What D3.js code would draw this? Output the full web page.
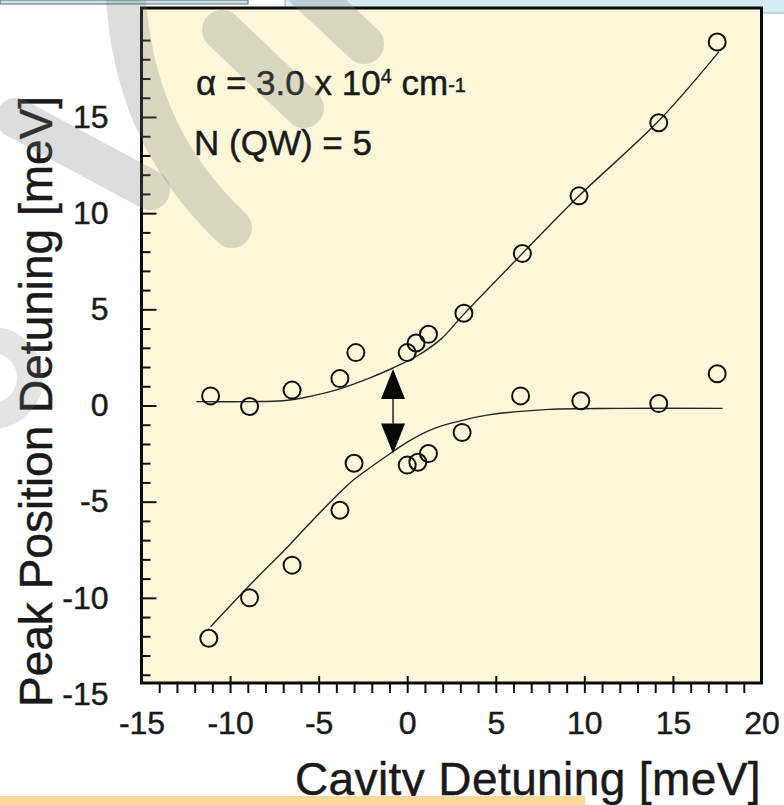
<!DOCTYPE html>
<html>
<head>
<meta charset="utf-8">
<script src="https://cdn.jsdelivr.net/npm/d3@7"></script>
<style>
  body { margin: 0; background: #fff; }
  svg { display: block; }
  text {
    font-family: "Liberation Sans", Arial, Helvetica, sans-serif;
    fill: #1a1a1a;
    stroke: #1a1a1a;
    stroke-width: 0.45px;
  }
</style>
</head>
<body>
<svg id="chart" width="784" height="805"></svg>
<script>
// Axis setup, in data units.
const xDomain = [-15, 20];
const yDomain = [-15, 15];
const xMajorTicks = [-15, -10, -5, 0, 5, 10, 15, 20];
const yMajorTicks = [-15, -10, -5, 0, 5, 10, 15];

// Measured peak positions, upper and lower polariton branch.
const upperX = [-11.1, -8.9, -6.5, -3.8, -2.9, 0.0, 0.5, 1.2, 3.2, 6.5, 9.7, 14.2, 17.5];
const upperY = [0.5, -0.05, 0.8, 1.4, 2.75, 2.75, 3.25, 3.7, 4.8, 7.9, 10.9, 14.7, 18.9];
const lowerX = [-11.2, -8.9, -6.5, -3.8, -3.0, 0.0, 0.6, 1.2, 3.1, 6.4, 9.8, 14.2, 17.5];
const lowerY = [-12.1, -10.0, -8.3, -5.45, -3.0, -3.1, -2.95, -2.5, -1.4, 0.5, 0.25, 0.1, 1.65];

// Fitted curves.
const upperFitX = [-11.9, -8.8, -7.0, -6.0, -3.75, -2.2, -0.8, 0.6, 1.9, 3.2, 6.5, 9.7, 14.2, 17.6];
const upperFitY = [0.2, 0.2, 0.25, 0.38, 0.88, 1.4, 1.95, 2.6, 3.45, 4.75, 7.9, 10.9, 14.8, 18.4];
const lowerFitX = [-11.1, -9.0, -6.7, -4.7, -3.2, -2.2, -0.8, 0.0, 1.5, 3.0, 4.5, 8.0, 12.0, 17.8];
const lowerFitY = [-11.5, -9.45, -7.3, -5.35, -4.0, -3.3, -2.4, -1.9, -1.2, -0.8, -0.5, -0.2, -0.15, -0.15];

// Splitting arrow between the branches.
const arrowX = -0.8;
const arrowEnds = [1.9, -2.5];

const svg = d3.select('#chart');
const frame = {left: 141.5, right: 761.5, top: 8, bottom: 683};

let x = d3.scaleLinear().domain(xDomain).range([frame.left, frame.right]);
let y = d3.scaleLinear().domain(yDomain).range([694, 117]);

// page decorations round the figure
svg.append('rect').attr('x', 0).attr('y', 0).attr('width', 248).attr('height', 4)
    .style('fill', '#c9e3ea').style('stroke', '#5d6b70').style('stroke-width', 1);
svg.append('rect').attr('x', 285).attr('y', -1).attr('width', 520).attr('height', 14)
    .style('fill', '#d4edf4').style('stroke', '#9fb2b8').style('stroke-width', 1);

// plot area
svg.append('rect')
    .attr('x', frame.left).attr('y', frame.top)
    .attr('width', frame.right - frame.left)
    .attr('height', frame.bottom - frame.top)
    .style('fill', '#fbf7d8');

let minorX = d3.range(-14, 20).filter(v => !xMajorTicks.includes(v));
let minorY = d3.range(-14, 20).filter(v => !yMajorTicks.includes(v));
let innerMajorX = xMajorTicks.filter(v => v > xDomain[0] && v < xDomain[1]);
let innerMajorY = yMajorTicks.filter(v => v > -14.5);

function styleTicks(g) {
  g.select('.domain').remove();
  g.selectAll('line').style('stroke', '#111').style('stroke-width', 2);
}

function styleLabels(g) {
  g.select('.domain').remove();
  g.selectAll('text')
      .style('font-size', '32px')
      .style('font-family', null)
      .attr('fill', null);
}

// x ticks: all below the frame, majors also poke inside
svg.append('g').attr('transform', `translate(0,${frame.bottom})`)
    .call(d3.axisBottom(x).tickValues(minorX.concat(innerMajorX)).tickSize(10).tickFormat(''))
    .call(styleTicks);
svg.append('g').attr('transform', `translate(0,${frame.bottom})`)
    .call(d3.axisTop(x).tickValues(innerMajorX).tickSize(7).tickFormat(''))
    .call(styleTicks);
svg.append('g').attr('transform', `translate(0,${frame.bottom})`)
    .call(d3.axisBottom(x).tickValues(xMajorTicks).tickSize(0).tickPadding(28)
        .tickFormat(d => String(d)))
    .call(styleLabels);

// y ticks: inside the frame
svg.append('g').attr('transform', `translate(${frame.left},0)`)
    .call(d3.axisRight(y).tickValues(minorY).tickSize(9).tickFormat(''))
    .call(styleTicks);
svg.append('g').attr('transform', `translate(${frame.left},0)`)
    .call(d3.axisRight(y).tickValues(innerMajorY).tickSize(15).tickFormat(''))
    .call(styleTicks);
svg.append('g').attr('transform', `translate(${frame.left},0)`)
    .call(d3.axisLeft(y).tickValues(yMajorTicks).tickSize(0).tickPadding(33)
        .tickFormat(d => String(d)))
    .call(styleLabels);

// fit curves
let line = d3.line()
    .x(d => x(d[0]))
    .y(d => y(d[1]))
    .curve(d3.curveCatmullRom.alpha(0.5));

let fits = [d3.zip(upperFitX, upperFitY), d3.zip(lowerFitX, lowerFitY)];
svg.selectAll('path.fit')
    .data(fits)
    .join('path')
    .attr('class', 'fit')
    .attr('d', line)
    .style('fill', 'none')
    .style('stroke', '#262626')
    .style('stroke-width', 1.4);

// data points
let points = d3.zip(upperX, upperY).concat(d3.zip(lowerX, lowerY));
svg.selectAll('circle.point')
    .data(points)
    .join('circle')
    .attr('class', 'point')
    .attr('cx', d => x(d[0]))
    .attr('cy', d => y(d[1]))
    .attr('r', 8.5)
    .style('fill', 'none')
    .style('stroke', '#111')
    .style('stroke-width', 2);

// double arrow
let ax = x(arrowX);
let yTop = y(arrowEnds[0]);
let yBottom = y(arrowEnds[1]);
let headH = 30, headW = 12;
svg.append('line')
    .attr('x1', ax).attr('x2', ax)
    .attr('y1', yTop + headH).attr('y2', yBottom - headH)
    .style('stroke', '#555').style('stroke-width', 2);
svg.append('path')
    .attr('d', `M${ax},${yTop}L${ax - headW},${yTop + headH}L${ax + headW},${yTop + headH}Z`)
    .style('fill', '#080808');
svg.append('path')
    .attr('d', `M${ax},${yBottom}L${ax - headW},${yBottom - headH}L${ax + headW},${yBottom - headH}Z`)
    .style('fill', '#080808');

// annotations
let note = svg.append('text').attr('x', 196).attr('y', 95).style('font-size', '35px');
note.append('tspan').text('α = 3.0 x 10');
note.append('tspan').attr('dy', -12).style('font-size', '20px').text('4');
note.append('tspan').attr('dy', 12).text(' cm');
note.append('tspan').attr('dy', -3).style('font-size', '20px').text('-1');
svg.append('text').attr('x', 194).attr('y', 155).style('font-size', '35px').text('N (QW) = 5');

// frame
svg.append('rect')
    .attr('x', frame.left).attr('y', frame.top)
    .attr('width', frame.right - frame.left)
    .attr('height', frame.bottom - frame.top)
    .style('fill', 'none')
    .style('stroke', '#0a0a0a')
    .style('stroke-width', 3);

// axis titles
svg.append('text')
    .attr('transform', 'translate(52,707) rotate(-90)')
    .attr('text-anchor', 'start')
    .style('font-size', '46px')
    .text('Peak Position Detuning [meV]');
svg.append('text')
    .attr('x', 528).attr('y', 795)
    .attr('text-anchor', 'middle')
    .style('font-size', '46px')
    .style('letter-spacing', '0.4px')
    .text('Cavity Detuning [meV]');

svg.append('rect').attr('x', 0).attr('y', 796).attr('width', 585).attr('height', 12)
    .style('fill', '#fdd89b');

// faint grey watermark strokes lying over the page
let marks = [
  'M125,-20C128,80 160,160 232,228',
  'M222,30L304,108',
  'M302,-14L364,44',
  'M16,118L150,190',
];
svg.selectAll('path.mark')
    .data(marks)
    .join('path')
    .attr('class', 'mark')
    .attr('d', d => d)
    .style('fill', 'none')
    .style('stroke', 'rgba(120,120,120,0.25)')
    .style('stroke-width', 40)
    .style('stroke-linecap', 'round');
svg.append('circle').attr('cx', -8).attr('cy', 378).attr('r', 38)
    .style('fill', 'none')
    .style('stroke', 'rgba(120,120,120,0.2)')
    .style('stroke-width', 26);
</script>
</body>
</html>
